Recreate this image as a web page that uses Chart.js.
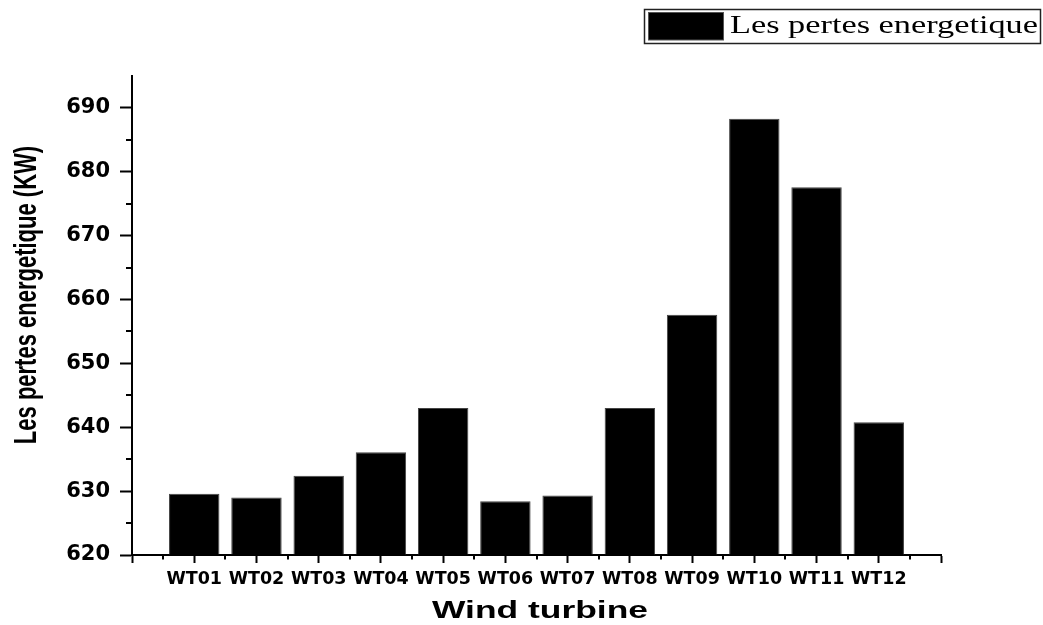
<!DOCTYPE html>
<html>
<head>
<meta charset="utf-8">
<script src="https://cdn.jsdelivr.net/npm/chart.js@4/dist/chart.umd.min.js"></script>
<style>
  html, body { margin: 0; padding: 0; background: #fff; }
  canvas { display: block; }
</style>
</head>
<body>
<canvas id="c" width="1043" height="625"></canvas>
<script>
// Energy losses per wind turbine (kW)
const turbines = ['WT01', 'WT02', 'WT03', 'WT04', 'WT05', 'WT06',
                  'WT07', 'WT08', 'WT09', 'WT10', 'WT11', 'WT12'];
const losses = [629.6, 629.0, 632.4, 636.1, 643.0, 628.4,
                629.3, 643.0, 657.6, 688.3, 677.6, 640.8];
const yTickValues = [620, 630, 640, 650, 660, 670, 680, 690];
const seriesName = 'Les pertes energetique';
const yTitle = 'Les pertes energetique (KW)';
const xTitle = 'Wind turbine';
const Y_MIN = 620;
const Y_MAX = 695;

// Draw text squeezed/stretched horizontally to a given width
function drawStretched(ctx, text, x, y, targetWidth, align) {
  const w = ctx.measureText(text).width;
  const sx = targetWidth / w;
  ctx.save();
  ctx.translate(x, y);
  ctx.scale(sx, 1);
  ctx.textAlign = align;
  ctx.textBaseline = 'alphabetic';
  ctx.fillText(text, 0, 0);
  ctx.restore();
}

// Minor ticks, axis titles and the boxed legend
const decor = {
  id: 'decor',
  afterDraw(chart) {
    const { ctx, chartArea: a } = chart;
    const xs = chart.scales.x, ys = chart.scales.y;
    ctx.save();

    // minor ticks
    ctx.strokeStyle = '#000';
    ctx.lineWidth = 2;
    ctx.beginPath();
    for (let v = Y_MIN + 5; v < Y_MAX; v += 10) {
      const py = Math.round(ys.getPixelForValue(v));
      ctx.moveTo(a.left - 6, py);
      ctx.lineTo(a.left, py);
    }
    for (let i = -0.5; i < turbines.length; i += 1) {
      const px = Math.round(xs.getPixelForValue(i));
      ctx.moveTo(px, a.bottom);
      ctx.lineTo(px, a.bottom + 4.5);
    }
    ctx.stroke();

    // x axis title
    ctx.fillStyle = '#000';
    ctx.font = 'bold 23px "Liberation Sans", Arial, sans-serif';
    drawStretched(ctx, xTitle, 540, 618, 216, 'center');

    // y axis title (rotated)
    ctx.save();
    ctx.translate(35.5, 295);
    ctx.scale(1.45, 1);
    ctx.rotate(-Math.PI / 2);
    ctx.font = 'bold 22px "Liberation Sans", Arial, sans-serif';
    ctx.textAlign = 'center';
    ctx.textBaseline = 'alphabetic';
    ctx.fillText(yTitle, 0, 0);
    ctx.restore();

    // legend box
    const ds = chart.data.datasets[0];
    ctx.lineWidth = 1.5;
    ctx.strokeStyle = '#222';
    ctx.strokeRect(644.5, 9.5, 396, 34);
    ctx.fillStyle = ds.backgroundColor;
    ctx.fillRect(648, 12.5, 75, 27.5);
    ctx.lineWidth = 1;
    ctx.strokeStyle = '#555';
    ctx.strokeRect(648.5, 12.5, 75, 27.5);
    ctx.fillStyle = '#000';
    ctx.font = '25px "Liberation Serif", "Times New Roman", serif';
    drawStretched(ctx, ds.label, 730, 32.5, 308, 'left');

    ctx.restore();
  }
};

new Chart(document.getElementById('c'), {
  type: 'bar',
  data: {
    datasets: [{
      label: seriesName,
      data: turbines.map((t, i) => ({ x: i, y: losses[i] })),
      backgroundColor: '#000',
      borderColor: '#444',
      borderWidth: 1,
      base: Y_MIN,
      categoryPercentage: 1,
      barPercentage: 0.81
    }]
  },
  options: {
    responsive: false,
    animation: false,
    devicePixelRatio: 1,
    layout: { padding: { top: 76, right: 102, left: 0, bottom: 0 } },
    plugins: {
      legend: { display: false },
      tooltip: { enabled: false }
    },
    scales: {
      x: {
        type: 'linear',
        offset: false,
        min: -1,
        max: turbines.length,
        afterBuildTicks: (s) => {
          const t = [];
          for (let i = -1; i <= turbines.length; i++) t.push({ value: i });
          s.ticks = t;
        },
        afterFit: (s) => { s.height = 70; },
        grid: { offset: false, drawOnChartArea: false, drawTicks: true, tickLength: 8, tickWidth: 2, tickColor: '#000' },
        border: { display: true, color: '#000', width: 2 },
        ticks: {
          color: '#000',
          padding: 6,
          maxRotation: 0,
          autoSkip: false,
          font: { family: '"DejaVu Sans", sans-serif', weight: 'bold', size: 17.5 },
          callback: (v) => turbines[v] ?? ''
        }
      },
      y: {
        min: Y_MIN,
        max: Y_MAX,
        afterBuildTicks: (s) => { s.ticks = yTickValues.map(v => ({ value: v })); },
        afterFit: (s) => { s.width = 132; },
        grid: { drawOnChartArea: false, drawTicks: true, tickLength: 12, tickWidth: 2, tickColor: '#000' },
        border: { display: true, color: '#000', width: 2 },
        ticks: {
          color: '#000',
          padding: 10,
          font: { family: '"DejaVu Sans", sans-serif', weight: 'bold', size: 21 }
        }
      }
    }
  },
  plugins: [decor]
});
</script>
</body>
</html>
